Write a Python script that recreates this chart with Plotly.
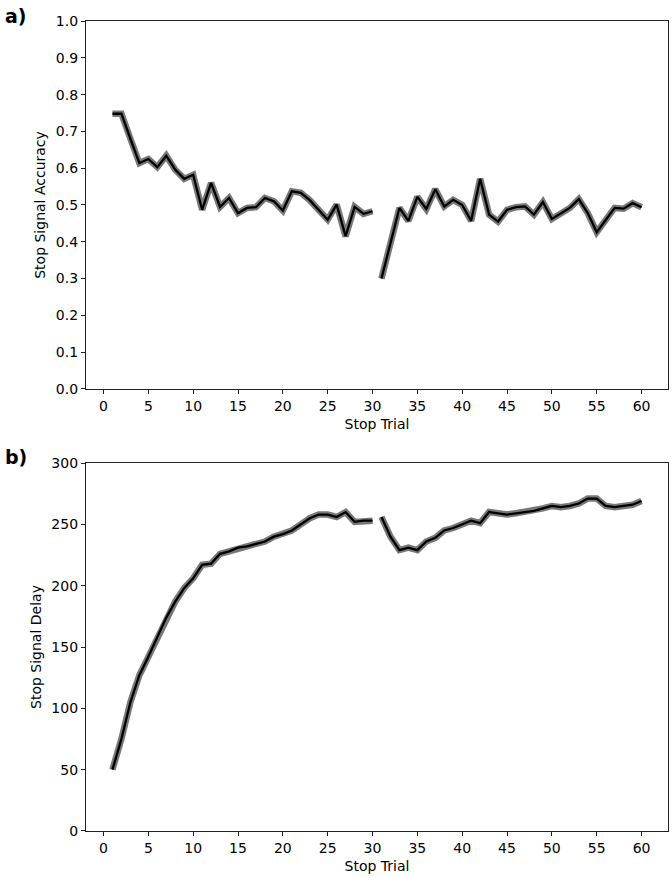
import plotly.graph_objects as go
from plotly.subplots import make_subplots

# Stop trials (two blocks, 1-30 and 31-60)
trials_block1 = list(range(1, 31))
trials_block2 = list(range(31, 61))

# Stop signal accuracy per stop trial
accuracy_block1 = [0.748, 0.748, 0.68, 0.614, 0.625, 0.603, 0.634, 0.596, 0.571, 0.582,
                   0.487, 0.560, 0.495, 0.519, 0.478, 0.492, 0.494, 0.519, 0.510, 0.485,
                   0.537, 0.533, 0.513, 0.487, 0.460, 0.501, 0.415, 0.495, 0.476, 0.483]
accuracy_block2 = [0.300, 0.395, 0.492, 0.457, 0.522, 0.489, 0.543, 0.496, 0.514, 0.500,
                   0.457, 0.571, 0.474, 0.455, 0.487, 0.494, 0.496, 0.474, 0.508, 0.462,
                   0.478, 0.492, 0.516, 0.478, 0.426, 0.460, 0.492, 0.490, 0.505, 0.494]

# Stop signal delay per stop trial
delay_block1 = [50, 75, 105, 127, 142, 158, 174, 187, 198, 206,
                217, 218, 226, 228, 231, 232, 234, 236, 240, 242,
                245, 250, 255, 258, 258, 256, 260, 252, 253, 253]
delay_block2 = [256, 240, 229, 231, 229, 236, 239, 245, 247, 250,
                253, 251, 260, 259, 258, 259, 260, 261, 263, 265,
                264, 265, 267, 271, 271, 265, 264, 265, 266, 269]

x_ticks = list(range(0, 61, 5))
acc_ticks = [i / 10 for i in range(0, 11)]
delay_ticks = list(range(0, 301, 50))

FONT = "DejaVu Sans"
FS = 14

fig = make_subplots(rows=2, cols=1, vertical_spacing=0.0)

def add_series(xs, ys, row):
    # shaded band (drawn as a wide translucent stroke under the mean line)
    fig.add_trace(go.Scatter(x=xs, y=ys, mode="lines",
                             line=dict(color="rgba(30,30,30,0.6)", width=6.5),
                             hoverinfo="skip", showlegend=False), row=row, col=1)
    fig.add_trace(go.Scatter(x=xs, y=ys, mode="lines",
                             line=dict(color="black", width=2.3),
                             showlegend=False), row=row, col=1)

add_series(trials_block1, accuracy_block1, 1)
add_series(trials_block2, accuracy_block2, 1)
add_series(trials_block1, delay_block1, 2)
add_series(trials_block2, delay_block2, 2)

axis_common = dict(showline=True, linecolor="#222", linewidth=1.3, mirror=True,
                   ticks="outside", ticklen=4, tickwidth=1.2, tickcolor="#222",
                   showgrid=False, zeroline=False, automargin=False,
                   tickfont=dict(family=FONT, size=FS, color="black"))

fig.update_xaxes(range=[-1.95, 62.95], tickvals=x_ticks,
                 title=dict(text="Stop Trial", font=dict(family=FONT, size=FS, color="black"), standoff=6),
                 **axis_common)
fig.update_yaxes(**axis_common)
fig.update_yaxes(range=[0, 1], tickvals=acc_ticks, tickformat=".1f",
                 title=dict(text="Stop Signal Accuracy", font=dict(family=FONT, size=FS, color="black"), standoff=6),
                 row=1, col=1)
fig.update_yaxes(range=[0, 300], tickvals=delay_ticks,
                 title=dict(text="Stop Signal Delay", font=dict(family=FONT, size=FS, color="black"), standoff=6),
                 row=2, col=1)

fig.update_layout(
    width=672, height=878,
    margin=dict(l=86, r=4, t=21, b=47),
    plot_bgcolor="white", paper_bgcolor="white",
    font=dict(family=FONT, color="black"),
    xaxis=dict(domain=[0, 1]),
    yaxis=dict(domain=[0.5457, 1.0]),
    yaxis2=dict(domain=[0.0, 0.4543]),
    annotations=[
        dict(text="<b>a)</b>", xref="paper", yref="paper", x=-0.142, y=1.006,
             xanchor="left", yanchor="middle", showarrow=False,
             font=dict(family=FONT, size=19, color="black")),
        dict(text="<b>b)</b>", xref="paper", yref="paper", x=-0.142, y=0.4617,
             xanchor="left", yanchor="middle", showarrow=False,
             font=dict(family=FONT, size=19, color="black")),
    ],
)

fig.write_html("out.html", config={"displayModeBar": False},
               post_script="document.body.style.margin='0';document.body.style.padding='0';document.body.style.overflow='hidden';")
